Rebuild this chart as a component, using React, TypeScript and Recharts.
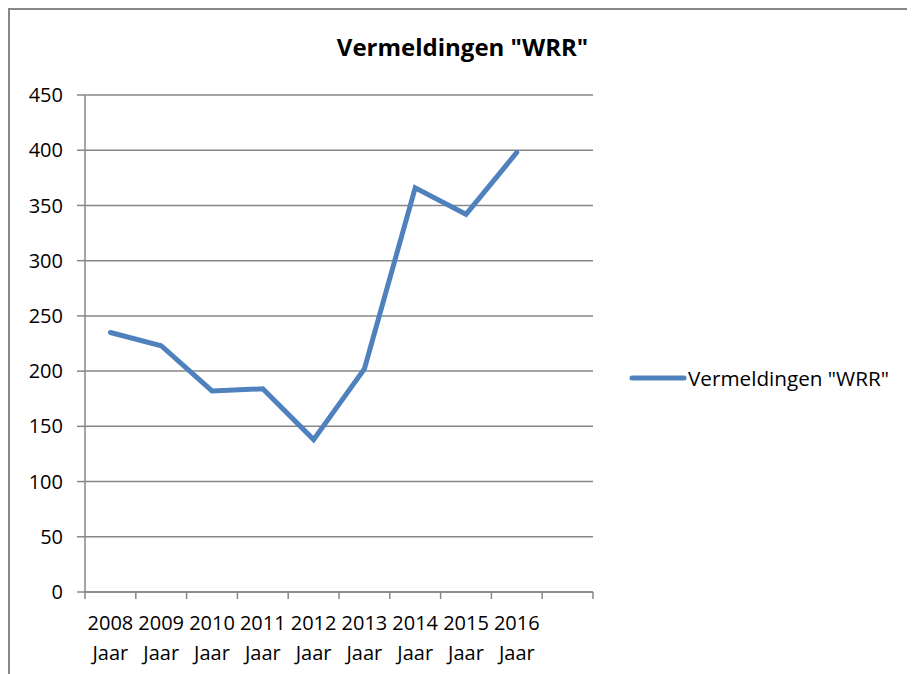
import { LineChart, Line, CartesianGrid, XAxis, YAxis } from 'recharts';

const years = ['2008', '2009', '2010', '2011', '2012', '2013', '2014', '2015', '2016', ''];
const mentions = [235, 223, 182, 184, 138, 202, 366, 342, 398, null];
const yTicks = [0, 50, 100, 150, 200, 250, 300, 350, 400, 450];
const seriesName = 'Vermeldingen "WRR"';

const font = '"Open Sans", sans-serif';
const gray = '#878787';
const blue = '#4F81BD';

// each year sits in the middle of its slot; slot edges get the tick marks
const data = years.map((year, i) => ({ year, pos: i + 0.5, value: mentions[i] }));
const xTicks: number[] = [];
for (let i = 0; i <= years.length * 2; i++) xTicks.push(i / 2);

function YearTick(props: any) {
  const { x, y, payload } = props;
  const v = payload.value as number;
  if (Number.isInteger(v)) {
    return <line x1={x} y1={y} x2={x} y2={y + 7} stroke={gray} strokeWidth={1.5} />;
  }
  const label = years[Math.floor(v)];
  if (!label) return <g />;
  return (
    <text x={x} y={y} textAnchor="middle" fontFamily={font} fontSize={20} fill="#000">
      <tspan x={x} dy={38}>{label}</tspan>
      <tspan x={x} dy={30}>Jaar</tspan>
    </text>
  );
}

export default function App() {
  return (
    <div style={{ position: 'relative', width: 907, height: 666 }}>
      <div style={{ position: 'absolute', left: 0, top: 0, width: 907, height: 2, background: gray, zIndex: 5 }} />
      <div style={{ position: 'absolute', left: 0, top: 0, width: 2, height: 666, background: gray, zIndex: 5 }} />
      <div style={{ position: 'absolute', left: 2, top: 22, width: 905, textAlign: 'center', fontFamily: font, fontWeight: 'bold', fontSize: 24, lineHeight: '34px' }}>
        {seriesName}
      </div>
      <div style={{ position: 'absolute', left: 621, top: 356, display: 'flex', alignItems: 'center', fontFamily: font, fontSize: 20.7 }}>
        <svg width={58} height={20}>
          <line x1={3} y1={10} x2={55} y2={10} stroke={blue} strokeWidth={5} strokeLinecap="round" />
        </svg>
        <span style={{ marginLeft: 1, whiteSpace: 'nowrap' }}>{seriesName}</span>
      </div>
      <div style={{ position: 'absolute', left: 2, top: 0 }}>
        <LineChart width={905} height={666} data={data} margin={{ top: 87, right: 322, bottom: 10, left: 0 }}>
          <CartesianGrid vertical={false} stroke={gray} strokeWidth={1.5} />
          <XAxis
            type="number"
            dataKey="pos"
            domain={[0, years.length]}
            ticks={xTicks}
            interval={0}
            height={72}
            allowDataOverflow
            axisLine={{ stroke: gray, strokeWidth: 1.5 }}
            tickLine={false}
            tickSize={0}
            tickMargin={0}
            tick={<YearTick />}
          />
          <YAxis
            width={75}
            domain={[0, 450]}
            ticks={yTicks}
            interval={0}
            axisLine={{ stroke: gray, strokeWidth: 1.5 }}
            tickLine={{ stroke: gray, strokeWidth: 1.5 }}
            tickSize={8}
            tickMargin={14}
            tick={{ fontFamily: font, fontSize: 20, fill: '#000' }}
          />
          <Line
            dataKey="value"
            name={seriesName}
            stroke={blue}
            strokeWidth={5}
            strokeLinecap="round"
            dot={false}
            activeDot={false}
            isAnimationActive={false}
          />
        </LineChart>
      </div>
    </div>
  );
}
